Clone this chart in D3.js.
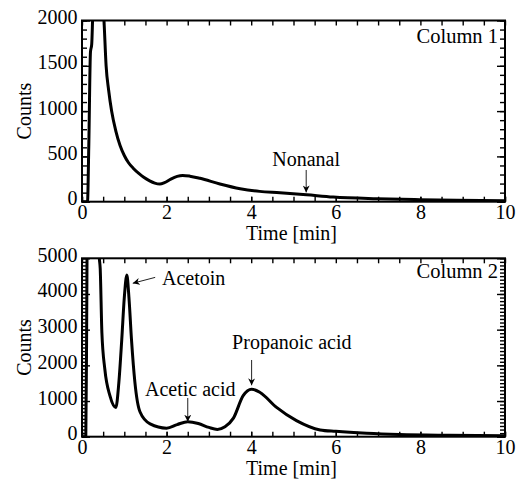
<!DOCTYPE html>
<html>
<head>
<meta charset="utf-8">
<script src="https://cdn.jsdelivr.net/npm/d3@7"></script>
<style>
  body { margin: 0; background: #fff; }
  svg { display: block; }
</style>
</head>
<body>
<svg id="chart" width="517" height="480"></svg>
<script>
var FONT = "'Liberation Serif', 'Times New Roman', serif";

// Column 1 trace
var col1Time = [0, 0.13, 0.16, 0.2, 0.23, 0.25, 0.3, 0.4, 0.52, 0.57, 0.63, 0.7, 0.8, 0.9, 1.0,
  1.1, 1.21, 1.35, 1.46, 1.6, 1.72, 1.84, 1.95, 2.1, 2.25, 2.38, 2.55, 2.79, 3.26, 3.74, 4.2, 4.68, 5.31, 5.94, 6.97, 7.99, 8.86, 10];
var col1Counts = [0, 0, 600, 1650, 1740, 2000, 2700, 2800, 2000, 1500, 1230, 1000, 780, 620, 510,
  430, 370, 310, 270, 230, 205, 195, 210, 250, 280, 290, 282, 258, 195, 143, 114, 100, 77, 52, 33, 22, 15, 10];

// Column 2 trace
var col2Time = [0, 0.09, 0.11, 0.13, 0.25, 0.35, 0.41, 0.43, 0.47, 0.54, 0.66, 0.8, 0.87, 0.94, 1.0, 1.06,
  1.11, 1.17, 1.25, 1.37, 1.61, 2.0, 2.25, 2.5, 2.75, 3.0, 3.2, 3.38, 3.58, 3.81, 4.01, 4.21, 4.6, 5.07, 5.63, 6.0, 6.73, 7.5, 8.67, 10];
var col2Counts = [0, 0, 3000, 7000, 8000, 7000, 5000, 4720, 2920, 1890, 1150, 820, 1500, 2720, 3900, 4530,
  3900, 2720, 1530, 700, 360, 240, 340, 420, 370, 260, 205, 280, 520, 1150, 1330, 1240, 820, 450, 190, 150, 95, 60, 40, 30];

var xTicks = [0, 2, 4, 6, 8, 10];
var col1YTicks = [0, 500, 1000, 1500, 2000];
var col2YTicks = [0, 1000, 2000, 3000, 4000, 5000];

// annotations: label, text position (t, counts), arrow from -> to
var col1Notes = [
  {label: "Nonanal", tx: 5.3, ty: 389, anchor: "middle", x1: 5.3, y1: 350, x2: 5.3, y2: 102}
];
var col2Notes = [
  {label: "Acetoin", tx: 1.89, ty: 4250, anchor: "start", x1: 1.73, y1: 4465, x2: 1.2, y2: 4300},
  {label: "Acetic acid", tx: 2.56, ty: 1140, anchor: "middle", x1: 2.5, y1: 1085, x2: 2.5, y2: 420},
  {label: "Propanoic acid", tx: 4.96, ty: 2460, anchor: "middle", x1: 4.01, y1: 2150, x2: 4.01, y2: 1440}
];

var svg = d3.select("#chart");

svg.append("defs").append("marker")
  .attr("id", "arrow")
  .attr("viewBox", "0 0 10 10")
  .attr("refX", 10)
  .attr("refY", 5)
  .attr("markerWidth", 7)
  .attr("markerHeight", 7)
  .attr("markerUnits", "userSpaceOnUse")
  .attr("orient", "auto")
  .append("path")
  .attr("d", "M0,0 L10,5 L0,10 L3,5 Z")
  .attr("fill", "#000");

function panel(id, top, bottom, yMax, yTicks, time, counts, notes, title, titleY) {
  var left = 82, right = 505;
  var x = d3.scaleLinear().domain([0, 10]).range([left, right]);
  var y = d3.scaleLinear().domain([0, yMax]).range([bottom, top]);

  var g = svg.append("g");

  g.append("clipPath").attr("id", "clip" + id)
    .append("rect")
    .attr("x", left).attr("y", top)
    .attr("width", right - left).attr("height", bottom - top);

  var minorX = d3.range(0, 10.01, 0.5);
  var minorY = d3.range(0, yMax + 1, 100);

  function styleAxis(sel) {
    sel.attr("font-family", FONT).attr("font-size", 20);
    sel.select(".domain").remove();
    sel.selectAll("line").attr("stroke", "#000").attr("stroke-width", 1.4);
    sel.selectAll("text").attr("fill", "#000").style("font-family", FONT).style("font-size", "20px");
  }

  g.append("g").attr("transform", "translate(0," + bottom + ")")
    .call(d3.axisBottom(x).tickValues(minorX).tickSizeInner(-5).tickSizeOuter(0).tickFormat(""))
    .call(styleAxis);
  g.append("g").attr("transform", "translate(0," + bottom + ")")
    .call(d3.axisBottom(x).tickValues(xTicks).tickSizeInner(-5).tickSizeOuter(0).tickPadding(3.5).tickFormat(d3.format("d")))
    .call(styleAxis);
  g.append("g").attr("transform", "translate(0," + top + ")")
    .call(d3.axisTop(x).tickValues(minorX).tickSizeInner(-5).tickSizeOuter(0).tickFormat(""))
    .call(styleAxis);

  g.append("g").attr("transform", "translate(" + left + ",0)")
    .call(d3.axisLeft(y).tickValues(minorY).tickSizeInner(-5).tickSizeOuter(0).tickFormat(""))
    .call(styleAxis);
  g.append("g").attr("transform", "translate(" + left + ",0)")
    .call(d3.axisLeft(y).tickValues(yTicks).tickSizeInner(-8).tickSizeOuter(0).tickPadding(4.5).tickFormat(d3.format("d")))
    .call(styleAxis)
    .selectAll("text").attr("dy", "0.15em");
  g.append("g").attr("transform", "translate(" + right + ",0)")
    .call(d3.axisRight(y).tickValues(minorY).tickSizeInner(-5).tickSizeOuter(0).tickFormat(""))
    .call(styleAxis);
  g.append("g").attr("transform", "translate(" + right + ",0)")
    .call(d3.axisRight(y).tickValues(yTicks).tickSizeInner(-8).tickSizeOuter(0).tickFormat(""))
    .call(styleAxis);

  var line = d3.line()
    .x(function(d, i) { return x(time[i]); })
    .y(function(d) { return y(d); })
    .curve(d3.curveMonotoneX);

  g.append("path")
    .datum(counts)
    .attr("clip-path", "url(#clip" + id + ")")
    .attr("fill", "none")
    .attr("stroke", "#000")
    .attr("stroke-width", 3)
    .attr("stroke-linejoin", "round")
    .attr("d", line);

  g.append("rect")
    .attr("x", left).attr("y", top)
    .attr("width", right - left).attr("height", bottom - top)
    .attr("fill", "none").attr("stroke", "#000").attr("stroke-width", 2);

  g.append("text")
    .attr("x", right - 7).attr("y", titleY)
    .attr("text-anchor", "end")
    .style("font-family", FONT).style("font-size", "20.5px")
    .text(title);

  g.append("text")
    .attr("x", (left + right) / 2 - 2).attr("y", bottom + 38.5)
    .attr("text-anchor", "middle")
    .style("font-family", FONT).style("font-size", "20px")
    .text("Time [min]");

  g.append("text")
    .attr("transform", "translate(31," + ((top + bottom) / 2) + ")rotate(-90)")
    .attr("text-anchor", "middle")
    .style("font-family", FONT).style("font-size", "20px")
    .text("Counts");

  notes.forEach(function(n) {
    g.append("line")
      .attr("x1", x(n.x1)).attr("y1", y(n.y1))
      .attr("x2", x(n.x2)).attr("y2", y(n.y2))
      .attr("stroke", "#222").attr("stroke-width", 1)
      .attr("marker-end", "url(#arrow)");
    g.append("text")
      .attr("x", x(n.tx)).attr("y", y(n.ty))
      .attr("text-anchor", n.anchor)
      .style("font-family", FONT).style("font-size", "20px")
      .text(n.label);
  });
}

panel(1, 20.5, 201.7, 2000, col1YTicks, col1Time, col1Counts, col1Notes, "Column 1", 42.5);
panel(2, 258.3, 436.7, 5000, col2YTicks, col2Time, col2Counts, col2Notes, "Column 2", 277.5);
</script>
</body>
</html>
